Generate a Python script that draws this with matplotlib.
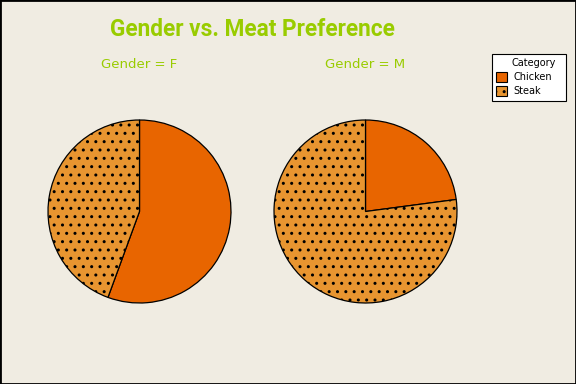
import matplotlib
matplotlib.use("Agg")
import matplotlib.pyplot as plt
from matplotlib.patches import Rectangle

categories = ["Chicken", "Steak"]
genders = ["F", "M"]
female_values = [0.556, 0.444]
male_values = [0.229, 0.771]
colors = ["#E86500", "#E89530"]
hatches = ["", ".."]

bg = "#F0ECE2"
green = "#99CC00"
plt.rcParams['hatch.linewidth'] = 1.0

fig = plt.figure(figsize=(5.76, 3.84), dpi=100, facecolor=bg)
W, H = 576, 384

def fx(x):
    return x / W

def fy(y):
    return 1 - y / H

def pie_axes(cx, cy, r):
    return fig.add_axes([(cx - r) / W, (H - cy - r) / H, 2 * r / W, 2 * r / H])

centers = [(139.5, 211.5), (365.5, 211.5)]
r = 91.5
for (cx, cy), g, vals in zip(centers, genders, [female_values, male_values]):
    ax = pie_axes(cx, cy, r)
    wedges, _ = ax.pie(vals, colors=colors, startangle=90, counterclock=False,
                       wedgeprops=dict(edgecolor="black", linewidth=0.9))
    for w, h in zip(wedges, hatches):
        w.set_hatch(h)
    ax.set_aspect("equal")
    ax.set_xlim(-1.0, 1.0)
    ax.set_ylim(-1.0, 1.0)
    ax.set_facecolor("none")
    fig.text(fx(cx), fy(64), f"Gender = {g}", ha="center", va="center",
             color=green, fontsize=9.5, family="DejaVu Sans")

fig.text(fx(252), fy(30), "Gender vs. Meat Preference", ha="center", va="center",
         color=green, fontsize=16.3, fontweight="bold", family=["Roboto", "DejaVu Sans"])

# legend drawn manually
fig.patches.append(Rectangle((fx(492), fy(101)), (566 - 492) / W, (101 - 54) / H,
                             transform=fig.transFigure, facecolor="white",
                             edgecolor="black", linewidth=0.8, zorder=5))
fig.text(fx(512), fy(62.5), "Category", ha="left", va="center", fontsize=7,
         color="black", zorder=6)
ys = [76.5, 90.5]
for cat, c, h, yc in zip(categories, colors, hatches, ys):
    p = Rectangle((fx(496), fy(yc + 5)), 11 / W, 10 / H, transform=fig.transFigure,
                  facecolor=c, edgecolor="black", linewidth=0.8, hatch=h, zorder=6)
    fig.patches.append(p)
    fig.text(fx(513), fy(yc), cat, ha="left", va="center", fontsize=7,
             color="black", zorder=6)

fig.patches.append(Rectangle((0, 0), 1, 1, transform=fig.transFigure, fill=False,
                             edgecolor="black", linewidth=2))

fig.savefig("out.png", dpi=100, facecolor=bg)
